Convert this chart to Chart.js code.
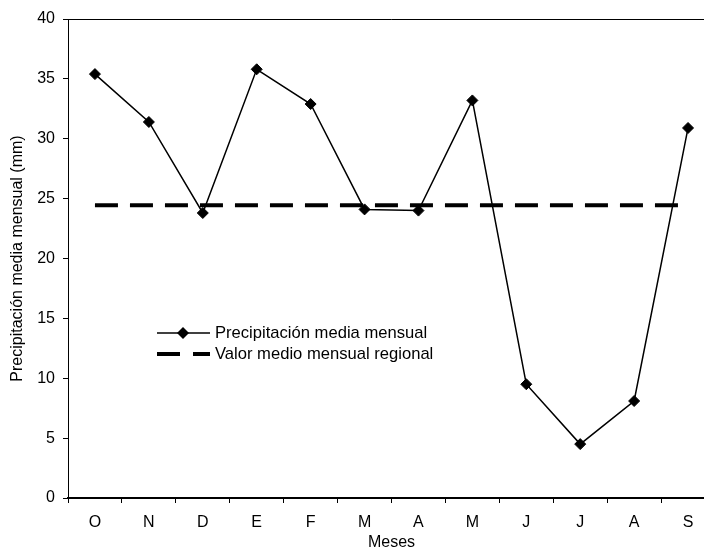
<!DOCTYPE html>
<html>
<head>
<meta charset="utf-8">
<script src="https://cdn.jsdelivr.net/npm/chart.js@4"></script>
<style>
  html, body { margin: 0; padding: 0; background: #fff; overflow: hidden; }
  #wrap { width: 740px; height: 556px; }
</style>
</head>
<body>
<div id="wrap"><canvas id="chart" width="740" height="556"></canvas></div>
<script>
// datos
const meses = ['O', 'N', 'D', 'E', 'F', 'M', 'A', 'M', 'J', 'J', 'A', 'S'];
const precipitacion = [35.4, 31.4, 23.8, 35.8, 32.9, 24.1, 24.0, 33.2, 9.5, 4.5, 8.1, 30.9];
const valorRegional = 24.45;
const yMin = 0, yMax = 40, yStep = 5;

const FONT = '"Liberation Sans", Arial, sans-serif';

// leyenda dentro del área del gráfico
const leyendaInterna = {
  id: 'leyendaInterna',
  afterDraw(chart) {
    const ctx = chart.ctx;
    const ds = chart.data.datasets;
    ctx.save();
    ctx.font = '16.6px ' + FONT;
    ctx.fillStyle = '#000';
    ctx.textBaseline = 'middle';

    // fila 1: línea con rombo
    ctx.strokeStyle = '#000';
    ctx.lineWidth = 1.5;
    ctx.beginPath();
    ctx.moveTo(157, 333);
    ctx.lineTo(210, 333);
    ctx.stroke();
    ctx.beginPath();
    ctx.moveTo(183 - 6, 333);
    ctx.lineTo(183, 333 - 6);
    ctx.lineTo(183 + 6, 333);
    ctx.lineTo(183, 333 + 6);
    ctx.closePath();
    ctx.fill();
    ctx.fillText(ds[0].label, 215, 333);

    // fila 2: línea discontinua
    ctx.lineWidth = 4;
    ctx.setLineDash([23, 13]);
    ctx.beginPath();
    ctx.moveTo(157, 354);
    ctx.lineTo(210, 354);
    ctx.stroke();
    ctx.setLineDash([]);
    ctx.fillText(ds[1].label, 215, 354);

    // borde superior y derecho del área
    const a = chart.chartArea;
    ctx.lineWidth = 1;
    ctx.strokeStyle = '#000';
    ctx.beginPath();
    ctx.moveTo(a.left, a.top + 0.5);
    ctx.lineTo(a.right - 0.5, a.top + 0.5);
    ctx.lineTo(a.right - 0.5, a.bottom);
    ctx.stroke();
    ctx.restore();
  }
};

new Chart(document.getElementById('chart').getContext('2d'), {
  type: 'line',
  data: {
    labels: meses,
    datasets: [
      {
        label: 'Precipitación media mensual',
        data: precipitacion,
        borderColor: '#000',
        backgroundColor: '#000',
        borderWidth: 1.5,
        pointStyle: 'rectRot',
        pointRadius: 5.5,
        pointBorderWidth: 1,
        tension: 0,
        fill: false
      },
      {
        label: 'Valor medio mensual regional',
        data: meses.map(() => valorRegional),
        borderColor: '#000',
        borderWidth: 4,
        borderDash: [23, 12],
        pointRadius: 0,
        tension: 0,
        fill: false
      }
    ]
  },
  options: {
    responsive: false,
    animation: false,
    layout: { padding: { left: 0, top: 19, right: 25, bottom: 0 } },
    plugins: {
      legend: { display: false },
      tooltip: { enabled: false }
    },
    scales: {
      x: {
        offset: true,
        ticks: { color: '#000', font: { family: FONT, size: 16 }, padding: 10, maxRotation: 0, autoSkip: false },
        grid: { offset: true, drawOnChartArea: false, drawTicks: true, tickLength: 5, color: '#000' },
        border: { display: true, color: '#000', width: 2 },
        title: { display: true, text: 'Meses', color: '#000', font: { family: FONT, size: 16 }, padding: { top: 0, bottom: 4 } },
        afterFit(s) { s.height = 58; }
      },
      y: {
        min: yMin,
        max: yMax,
        ticks: { stepSize: yStep, color: '#000', font: { family: FONT, size: 16 }, padding: 8 },
        grid: { drawOnChartArea: false, drawTicks: true, tickLength: 5, color: '#000' },
        border: { display: true, color: '#000', width: 1 },
        title: { display: true, text: 'Precipitación media mensual (mm)', color: '#000', font: { family: FONT, size: 16 }, padding: { top: 8, bottom: 0 } },
        afterFit(s) { s.width = 68; }
      }
    }
  },
  plugins: [leyendaInterna]
});
</script>
</body>
</html>
